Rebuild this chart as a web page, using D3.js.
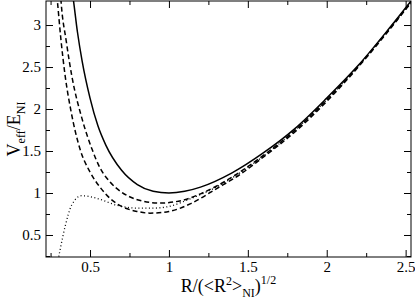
<!DOCTYPE html>
<meta charset="utf-8">
<style>
body { margin: 0; background: #fff; }
.axis path { display: none; }
.axis line { stroke: #000; }
</style>
<body>
<script src="https://cdn.jsdelivr.net/npm/d3@7"></script>
<script>

var W = 415, H = 303;
var m = {left: 46, right: 4, top: 1, bottom: 46};
var serif = "'Liberation Serif'";

// tick labels
var xTicks = [0.5, 1, 1.5, 2, 2.5];
var xMinor = [0.25, 0.75, 1.25, 1.75, 2.25];
var yTicks = [0.5, 1, 1.5, 2, 2.5, 3];
var yMinor = [0.25, 0.75, 1.25, 1.75, 2.25, 2.75];

// solid curve
var solidX = [0.385, 0.39, 0.42, 0.45, 0.5, 0.55, 0.6, 0.7, 0.8, 0.9, 1.0, 1.1, 1.2, 1.4, 1.6, 1.8, 2.0, 2.2, 2.4, 2.54];
var solidY = [3.42, 3.36, 2.92, 2.57, 2.13, 1.80, 1.57, 1.27, 1.10, 1.02, 1.00, 1.02, 1.07, 1.24, 1.48, 1.77, 2.13, 2.52, 2.97, 3.30];

// upper dashed curve
var dash1X = [0.305, 0.316, 0.35, 0.384, 0.45, 0.513, 0.563, 0.627, 0.7, 0.8, 0.94, 1.1, 1.2, 1.3, 1.45, 1.6, 1.8, 2.0, 2.2, 2.4, 2.54];
var dash1Y = [3.60, 3.29, 2.80, 2.40, 1.88, 1.52, 1.30, 1.13, 1.01, 0.92, 0.88, 0.92, 0.99, 1.08, 1.25, 1.45, 1.75, 2.11, 2.51, 2.96, 3.29];

// lower dashed curve
var dash2X = [0.285, 0.293, 0.315, 0.342, 0.38, 0.437, 0.5, 0.563, 0.63, 0.7, 0.8, 0.88, 1.0, 1.134, 1.3, 1.45, 1.6, 1.8, 2.0, 2.2, 2.4, 2.54];
var dash2Y = [3.45, 3.29, 2.84, 2.40, 1.97, 1.52, 1.25, 1.07, 0.93, 0.84, 0.78, 0.76, 0.78, 0.87, 1.05, 1.22, 1.43, 1.73, 2.09, 2.50, 2.95, 3.28];

// dotted curve
var dotX = [0.298, 0.31, 0.342, 0.384, 0.447, 0.542, 0.669, 0.8, 0.9, 1.0, 1.134, 1.3, 1.45, 1.6, 1.8, 2.0, 2.2, 2.4, 2.54];
var dotY = [0.20, 0.32, 0.60, 0.857, 0.968, 0.937, 0.855, 0.82, 0.82, 0.84, 0.93, 1.07, 1.24, 1.44, 1.75, 2.11, 2.51, 2.96, 3.28];

var x = d3.scaleLinear().domain([0.221, 2.534]).range([m.left, W - m.right]);
var y = d3.scaleLinear().domain([0.238, 3.286]).range([H - m.bottom, m.top]);

var svg = d3.select("body").append("svg")
    .attr("width", W)
    .attr("height", H);

svg.append("clipPath").attr("id", "clip")
  .append("rect")
    .attr("x", x.range()[0]).attr("y", y.range()[1])
    .attr("width", x.range()[1] - x.range()[0])
    .attr("height", y.range()[0] - y.range()[1]);

var x0 = x.range()[0], x1 = x.range()[1], y0 = y.range()[0], y1 = y.range()[1];

// axes, ticks pointing inward on all four sides
svg.append("g").attr("class", "axis")
    .attr("transform", "translate(0," + y0 + ")")
    .call(d3.axisBottom(x).tickValues(xTicks).tickSize(-7).tickPadding(4).tickFormat(d3.format("")));
svg.append("g").attr("class", "axis")
    .attr("transform", "translate(0," + y0 + ")")
    .call(d3.axisBottom(x).tickValues(xMinor).tickSize(-4).tickFormat(""));
svg.append("g").attr("class", "axis")
    .attr("transform", "translate(0," + y1 + ")")
    .call(d3.axisTop(x).tickValues(xTicks).tickSize(-7).tickFormat(""));
svg.append("g").attr("class", "axis")
    .attr("transform", "translate(0," + y1 + ")")
    .call(d3.axisTop(x).tickValues(xMinor).tickSize(-4).tickFormat(""));

svg.append("g").attr("class", "axis")
    .attr("transform", "translate(" + x0 + ",0)")
    .call(d3.axisLeft(y).tickValues(yTicks).tickSize(-7).tickPadding(5).tickFormat(d3.format("")));
svg.append("g").attr("class", "axis")
    .attr("transform", "translate(" + x0 + ",0)")
    .call(d3.axisLeft(y).tickValues(yMinor).tickSize(-4).tickFormat(""));
svg.append("g").attr("class", "axis")
    .attr("transform", "translate(" + x1 + ",0)")
    .call(d3.axisRight(y).tickValues(yTicks).tickSize(-7).tickFormat(""));
svg.append("g").attr("class", "axis")
    .attr("transform", "translate(" + x1 + ",0)")
    .call(d3.axisRight(y).tickValues(yMinor).tickSize(-4).tickFormat(""));

svg.selectAll(".axis text")
    .style("font-family", serif)
    .style("font-size", "15px")
    .style("fill", "#000");

// frame
svg.append("rect")
    .attr("x", x0).attr("y", y1)
    .attr("width", x1 - x0).attr("height", y0 - y1)
    .attr("fill", "none").attr("stroke", "#000").attr("stroke-width", 1);

var line = d3.line()
    .x(function(d) { return x(d[0]); })
    .y(function(d) { return y(d[1]); })
    .curve(d3.curveMonotoneX);

function pts(xs, ys) { return xs.map(function(v, i) { return [v, ys[i]]; }); }

var curves = svg.append("g").attr("clip-path", "url(#clip)");

curves.append("path").datum(pts(dotX, dotY))
    .attr("d", line).attr("fill", "none").attr("stroke", "#000")
    .attr("stroke-width", 1.3).attr("stroke-dasharray", "1,2.5");
curves.append("path").datum(pts(dash2X, dash2Y))
    .attr("d", line).attr("fill", "none").attr("stroke", "#000")
    .attr("stroke-width", 1.5).attr("stroke-dasharray", "5,3");
curves.append("path").datum(pts(dash1X, dash1Y))
    .attr("d", line).attr("fill", "none").attr("stroke", "#000")
    .attr("stroke-width", 1.5).attr("stroke-dasharray", "5,3");
curves.append("path").datum(pts(solidX, solidY))
    .attr("d", line).attr("fill", "none").attr("stroke", "#000")
    .attr("stroke-width", 1.5);

// axis titles
var xt = svg.append("text")
    .attr("x", (x0 + x1) / 2).attr("y", 292)
    .attr("text-anchor", "middle")
    .style("font-family", serif)
    .style("font-size", "18px");
xt.append("tspan").text("R/(<R");
xt.append("tspan").attr("dy", -7).style("font-size", "12px").text("2");
xt.append("tspan").attr("dy", 7).text(">");
xt.append("tspan").attr("dy", 5).style("font-size", "12px").text("NI");
xt.append("tspan").attr("dy", -5).text(")");
xt.append("tspan").attr("dy", -8).style("font-size", "12px").text("1/2");

var yt = svg.append("text")
    .attr("transform", "translate(20," + ((y0 + y1) / 2) + ") rotate(-90)")
    .attr("text-anchor", "middle")
    .style("font-family", serif)
    .style("font-size", "18px");
yt.append("tspan").text("V");
yt.append("tspan").attr("dy", 5).style("font-size", "12px").text("eff");
yt.append("tspan").attr("dy", -5).text("/E");
yt.append("tspan").attr("dy", 5).style("font-size", "12px").text("NI");

</script>
